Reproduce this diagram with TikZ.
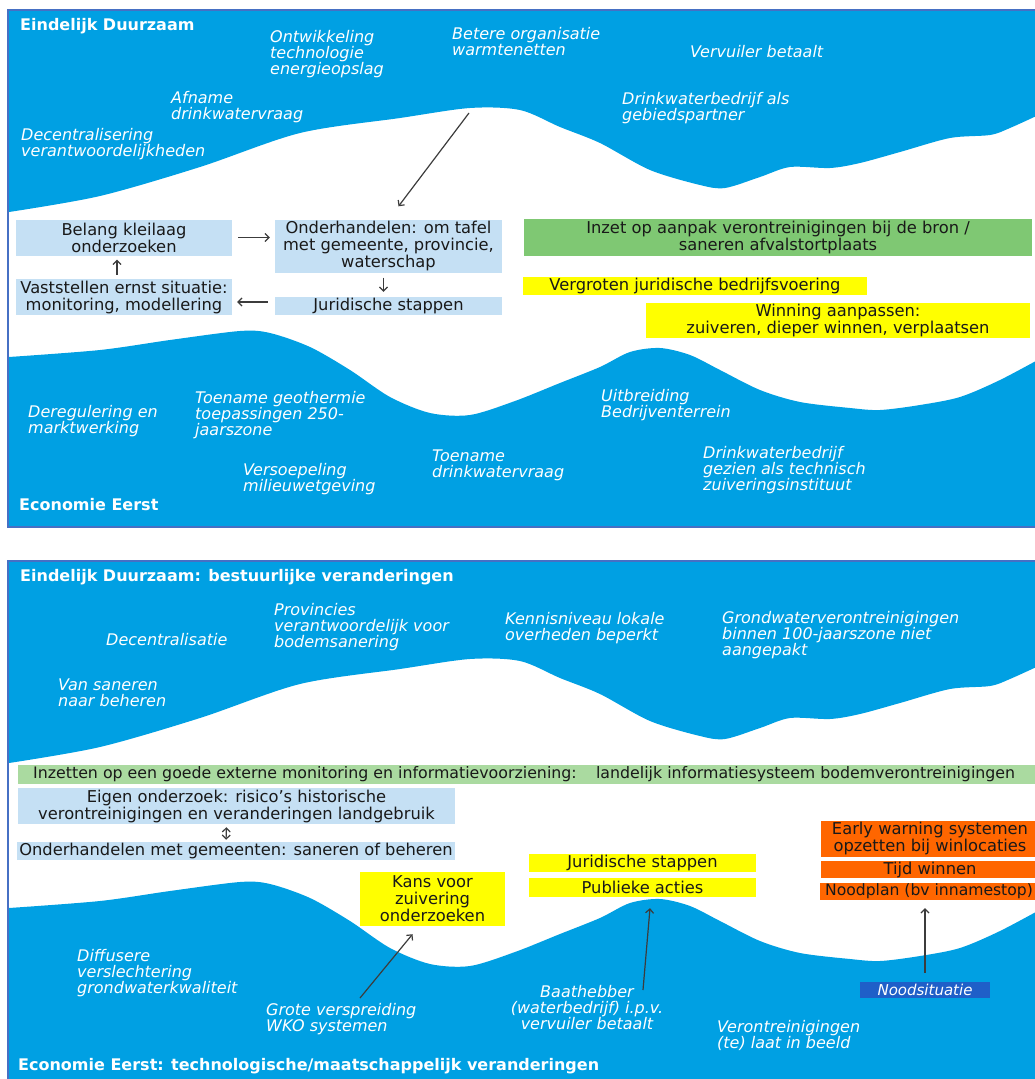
\documentclass[tikz,border=0pt]{standalone}
\usepackage{fontspec}
\setmainfont{DejaVu Sans}
\usepackage{tikz}
\usetikzlibrary{arrows.meta}

\definecolor{waterblauw}{RGB}{0,160,227}
\definecolor{randblauw}{RGB}{70,112,196}
\definecolor{lichtblauw}{RGB}{197,224,244}
\definecolor{groen}{RGB}{127,200,115}
\definecolor{lichtgroen}{RGB}{170,218,160}
\definecolor{geel}{RGB}{255,255,0}
\definecolor{oranje}{RGB}{255,102,0}
\definecolor{donkerblauw}{RGB}{31,95,200}
\definecolor{tekstkleur}{RGB}{25,25,25}
\definecolor{pijlkleur}{RGB}{60,60,60}

\begin{document}
\begin{tikzpicture}[x=1pt,y=-1pt,
    water/.style={fill=waterblauw},
    paneel/.style={draw=randblauw,line width=2pt},
    kop/.style={anchor=west,inner sep=0pt,text=white,font=\fontsize{16}{17}\selectfont\bfseries},
    trend/.style={anchor=west,inner sep=0pt,align=left,text=white,font=\fontsize{16}{16}\selectfont\itshape},
    vak/.style={inner sep=0pt,align=center,text=tekstkleur,font=\fontsize{16.3}{17}\selectfont},
    pijl/.style={draw=pijlkleur,line width=1.2pt,-{Straight Barb[length=4pt,width=8pt]}}]
\useasboundingbox (0,0) rectangle (1035,1079);

\foreach \dy/\bodem in {0/526,551/540} {
  \begin{scope}[shift={(0,\dy)}]
    \fill[water] (9,11) -- plot[smooth] coordinates {(9,212) (100,196) (200,167) (300,133) (400,118) (470,108) (520,110) (560,127) (600,143) (650,170) (700,185) (725,188) (760,177) (790,167) (830,168) (860,163) (900,152) (950,138) (990,135) (1010,128) (1045,112)} -- (1045,11) -- cycle;
    \fill[water] (9,\bodem) -- plot[smooth] coordinates {(9,357) (100,350) (170,340) (240,331) (270,333) (310,347) (350,370) (390,397) (430,413) (470,415) (515,401) (560,383) (600,367) (630,352) (660,348) (690,355) (720,370) (760,390) (800,402) (850,408) (880,410) (920,405) (960,397) (1000,380) (1045,356)} -- (1045,\bodem) -- cycle;
  \end{scope}
}
\draw[paneel] (8,10) rectangle (1045,527);
\draw[paneel] (8,561) rectangle (1045,1090);

\node[kop] (titel1) at (20,26) {Eindelijk Duurzaam};
\node[trend] (energie) at (270,54) {Ontwikkeling\\technologie\\energieopslag};
\node[trend] (warmte) at (452,42) {Betere organisatie\\warmtenetten};
\node[trend] (vervuiler) at (690,52) {Vervuiler betaalt};
\node[trend] (afname) at (171,107) {Afname\\drinkwatervraag};
\node[trend] (partner) at (622,108) {Drinkwaterbedrijf als\\gebiedspartner};
\node[trend] (decentr) at (21,144) {Decentralisering\\verantwoordelijkheden};

\node[vak,fill=lichtblauw,minimum width=216pt,minimum height=36pt] (belang) at (124,237.5) {Belang kleilaag\\onderzoeken};
\node[vak,fill=lichtblauw,minimum width=227pt,minimum height=53pt] (onderh) at (388.5,246) {Onderhandelen: om tafel\\met gemeente, provincie,\\waterschap};
\node[vak,fill=lichtblauw,minimum width=216pt,minimum height=36pt] (vastst) at (124,297) {Vaststellen ernst situatie:\\monitoring, modellering};
\node[vak,fill=lichtblauw,minimum width=227pt,minimum height=18pt] (jurid) at (388.5,306) {Juridische stappen};
\node[vak,fill=groen,minimum width=508pt,minimum height=37pt] (inzet) at (778,237.5) {Inzet op aanpak verontreinigingen bij de bron /\\saneren afvalstortplaats};
\node[vak,fill=geel,minimum width=344pt,minimum height=18pt] (vergroten) at (695,286) {Vergroten juridische bedrijfsvoering};
\node[vak,fill=geel,minimum width=384pt,minimum height=35pt] (winning) at (838,320.5) {Winning aanpassen:\\zuiveren, dieper winnen, verplaatsen};

\coordinate (piek) at (469,113);
\draw[pijl] (piek) -- ([xshift=10pt,yshift=13pt]onderh.north);
\draw[pijl,shorten <=6pt,shorten >=5pt] (belang.east) -- (belang.east -| onderh.west);
\draw[pijl,shorten <=5pt,shorten >=5pt] ([xshift=-5pt]onderh.south) -- ([xshift=-5pt]jurid.north);
\draw[pijl,shorten <=7pt,shorten >=5pt] ([yshift=4pt]jurid.west) -- ([yshift=4pt]jurid.west -| vastst.east);
\draw[pijl,shorten <=4pt,shorten >=4pt] ([xshift=-7pt]vastst.north) -- ([xshift=-7pt]belang.south);

\node[trend] (dereg) at (28,421) {Deregulering en\\marktwerking};
\node[trend] (geo) at (195,415) {Toename geothermie\\toepassingen 250-\\jaarszone};
\node[trend] (versoep) at (243,479) {Versoepeling\\milieuwetgeving};
\node[trend] (toename) at (432,465) {Toename\\drinkwatervraag};
\node[trend] (uitbr) at (601,405) {Uitbreiding\\Bedrijventerrein};
\node[trend] (zuivering) at (703,470) {Drinkwaterbedrijf\\gezien als technisch\\zuiveringsinstituut};
\node[kop] (titel2) at (19,505) {Economie Eerst};

\node[kop] (titel3) at (20,577) {Eindelijk Duurzaam: bestuurlijke veranderingen};
\node[trend] (decentr2) at (106,640) {Decentralisatie};
\node[trend] (prov) at (274,627) {Provincies\\verantwoordelijk voor\\bodemsanering};
\node[trend] (kennis) at (505,628) {Kennisniveau lokale\\overheden beperkt};
\node[trend] (grondw) at (722,635) {Grondwaterverontreinigingen\\binnen 100-jaarszone niet\\aangepakt};
\node[trend] (beheren) at (58,693) {Van saneren\\naar beheren};

\node[vak,fill=lichtgroen,anchor=west,inner xsep=15pt,minimum height=19pt,font=\fontsize{15.8}{17}\selectfont] (monitoring) at (18,774) {Inzetten op een goede externe monitoring en informatievoorziening:\hspace{0.8em} landelijk informatiesysteem bodemverontreinigingen\hspace{20pt}};
\node[vak,fill=lichtblauw,minimum width=437pt,minimum height=36pt] (eigen) at (236.5,806) {Eigen onderzoek: risico’s historische\\verontreinigingen en veranderingen landgebruik};
\node[vak,fill=lichtblauw,minimum width=438pt,minimum height=18pt] (gemeenten) at (236,851) {Onderhandelen met gemeenten: saneren of beheren};
\draw[pijl,{Straight Barb[length=4pt,width=8pt]}-{Straight Barb[length=4pt,width=8pt]},shorten <=3pt,shorten >=2pt] ([xshift=-10pt]eigen.south) -- ([xshift=-10pt]gemeenten.north);

\node[vak,fill=geel,minimum width=145pt,minimum height=54pt] (kans) at (432.5,899) {Kans voor\\zuivering\\onderzoeken};
\node[vak,fill=geel,minimum width=227pt,minimum height=18pt] (jurid2) at (642.5,863) {Juridische stappen};
\node[vak,fill=geel,minimum width=227pt,minimum height=19pt] (publiek) at (642.5,887.5) {Publieke acties};
\node[vak,fill=oranje,minimum width=218pt,minimum height=36pt] (early) at (930,838.5) {Early warning systemen\\opzetten bij winlocaties};
\node[vak,fill=oranje,minimum width=218pt,minimum height=17pt] (tijd) at (930,869.5) {Tijd winnen};
\node[vak,fill=oranje,minimum width=218pt,minimum height=17pt,font=\fontsize{15.6}{17}\selectfont] (noodplan) at (929,891.5) {Noodplan (bv innamestop)};
\node[vak,fill=donkerblauw,text=white,font=\fontsize{15}{16}\selectfont\itshape,minimum width=130pt,minimum height=16pt] (nood) at (925,990) {Noodsituatie};

\node[trend] (diffuus) at (77,973) {Diffusere\\verslechtering\\grondwaterkwaliteit};
\node[trend] (wko) at (266,1019) {Grote verspreiding\\WKO systemen};
\node[trend,align=center,anchor=center] (baat) at (587,1008) {Baathebber\\(waterbedrijf) i.p.v.\\vervuiler betaalt};
\node[trend] (laat) at (717,1035) {Verontreinigingen\\(te) laat in beeld};
\node[kop] (titel4) at (18,1066) {Economie Eerst: technologische/maatschappelijk veranderingen};

\coordinate (wko-pijl) at (360,998);
\coordinate (baat-pijl) at (643,990);
\draw[pijl] (wko-pijl) -- ([xshift=-20pt,yshift=-8pt]kans.south);
\draw[pijl] (baat-pijl) -- ([xshift=7.5pt,yshift=-11pt]publiek.south);
\draw[pijl,shorten <=9pt,shorten >=8pt] (nood.north) -- (nood.north |- noodplan.south);
\end{tikzpicture}
\end{document}
